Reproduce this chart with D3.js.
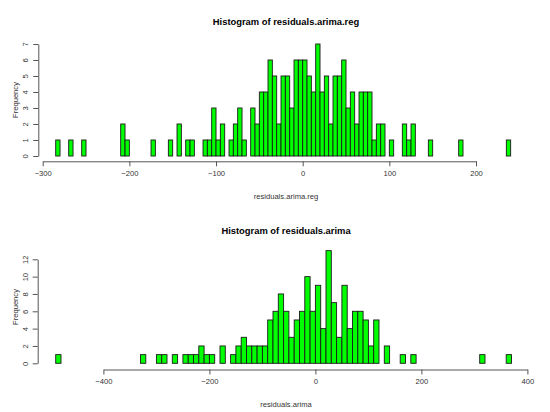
<!DOCTYPE html>
<html>
<head>
<meta charset="utf-8">
<script src="https://cdn.jsdelivr.net/npm/d3@7"></script>
<style>
  body { margin: 0; background: #fff; }
  svg { display: block; }
  text { font-family: "Liberation Sans", Arial, sans-serif; }
</style>
</head>
<body>
<svg id="chart" width="550" height="412"></svg>
<script>
// ---- Data ----
// Histogram 1: residuals.arima.reg, bin width 5, first bin starts at -285
const regBinStart = -285;
const regBinWidth = 5;
const regCounts = [
  1,0,0,1,0,0,1,0,0,0,0,0,0,0,0,2,1,0,0,0,0,0,1,0,0,0,1,0,2,0,1,1,0,0,
  1,1,3,1,2,0,1,2,3,1,0,3,2,4,4,6,5,2,5,5,3,6,6,6,5,4,7,4,5,2,5,5,6,3,4,2,
  4,4,4,1,2,2,0,1,0,0,2,1,2,0,0,0,1,0,0,0,0,0,0,1,0,0,0,0,0,0,0,0,0,0,1
];
const regXTicks = [-300, -200, -100, 0, 100, 200];
const regYTicks = [0, 1, 2, 3, 4, 5, 6, 7];

// Histogram 2: residuals.arima, bin width 10, first bin starts at -490
const arimaBinStart = -490;
const arimaBinWidth = 10;
const arimaCounts = [
  1,0,0,0,0,0,0,0,0,0,0,0,0,0,0,0,1,0,0,1,1,0,1,0,1,1,1,2,1,1,0,2,0,
  1,2,3,2,2,2,2,5,6,8,6,3,5,6,10,6,9,4,13,7,3,9,4,6,6,5,2,5,0,2,0,0,1,0,1,
  0,0,0,0,0,0,0,0,0,0,0,0,1,0,0,0,0,1
];
const arimaXTicks = [-400, -200, 0, 200, 400];
const arimaYTicks = [0, 2, 4, 6, 8, 10, 12];

const svg = d3.select("#chart");

function drawHist(cfg) {
  const g = svg.append("g");
  const x = d3.scaleLinear().domain(cfg.xDomain).range(cfg.xRange);
  const y = d3.scaleLinear().domain(cfg.yDomain).range(cfg.yRange);

  const bins = cfg.counts.map((c, i) => ({
    x0: cfg.binStart + i * cfg.binWidth,
    x1: cfg.binStart + (i + 1) * cfg.binWidth,
    count: c
  }));

  g.append("g").selectAll("rect").data(bins).join("rect")
    .attr("x", d => x(d.x0))
    .attr("width", d => x(d.x1) - x(d.x0))
    .attr("y", d => y(d.count))
    .attr("height", d => y(0) - y(d.count))
    .attr("fill", "#00ff00")
    .attr("stroke", "#1a1a1a")
    .attr("stroke-width", 0.9);

  const fmt = d3.format("d");
  const xa = g.append("g")
    .attr("transform", `translate(0,${cfg.xAxisY})`)
    .call(d3.axisBottom(x).tickValues(cfg.xTicks).tickFormat(fmt)
      .tickSize(5).tickSizeOuter(0).tickPadding(4));
  const ya = g.append("g")
    .attr("transform", `translate(${cfg.yAxisX},0)`)
    .call(d3.axisLeft(y).tickValues(cfg.yTicks).tickFormat(fmt)
      .tickSize(5).tickSizeOuter(0));
  [xa, ya].forEach(a => {
    a.select(".domain").attr("stroke", "#555");
    a.selectAll(".tick line").attr("stroke", "#555");
    a.selectAll("text").attr("fill", "#333").attr("font-size", 7.6)
      .attr("font-family", "'Liberation Sans', Arial, sans-serif");
  });
  ya.selectAll(".tick text")
    .attr("x", 0).attr("y", 0)
    .attr("text-anchor", "middle")
    .attr("transform", "translate(-12.5,0) rotate(-90)")
    .attr("dy", "0.35em");

  g.append("text")
    .attr("x", cfg.titleX).attr("y", cfg.titleY)
    .attr("text-anchor", "middle")
    .attr("font-weight", "bold").attr("font-size", 9.4).attr("fill", "#000")
    .text(cfg.title);
  g.append("text")
    .attr("x", cfg.titleX).attr("y", cfg.xLabelY)
    .attr("text-anchor", "middle")
    .attr("font-size", 7.6).attr("fill", "#333")
    .text(cfg.xLabel);
  g.append("text")
    .attr("transform", `translate(${cfg.yLabelX},${cfg.yLabelCY}) rotate(-90)`)
    .attr("text-anchor", "middle")
    .attr("dy", "0.35em")
    .attr("font-size", 7.6).attr("fill", "#333")
    .text("Frequency");
}

drawHist({
  counts: regCounts, binStart: regBinStart, binWidth: regBinWidth,
  xDomain: [-300, 200], xRange: [42.7, 476],
  yDomain: [0, 7], yRange: [156, 44],
  xTicks: regXTicks, yTicks: regYTicks,
  xAxisY: 161.3, yAxisX: 38.3,
  title: "Histogram of residuals.arima.reg", titleX: 286, titleY: 24.5,
  xLabel: "residuals.arima.reg", xLabelY: 199,
  yLabelX: 15, yLabelCY: 100
});

drawHist({
  counts: arimaCounts, binStart: arimaBinStart, binWidth: arimaBinWidth,
  xDomain: [-400, 400], xRange: [103.4, 527.4],
  yDomain: [0, 12], yRange: [363.3, 259.3],
  xTicks: arimaXTicks, yTicks: arimaYTicks,
  xAxisY: 369.5, yAxisX: 37.7,
  title: "Histogram of residuals.arima", titleX: 286, titleY: 233.5,
  xLabel: "residuals.arima", xLabelY: 407,
  yLabelX: 15, yLabelCY: 307
});
</script>
</body>
</html>
